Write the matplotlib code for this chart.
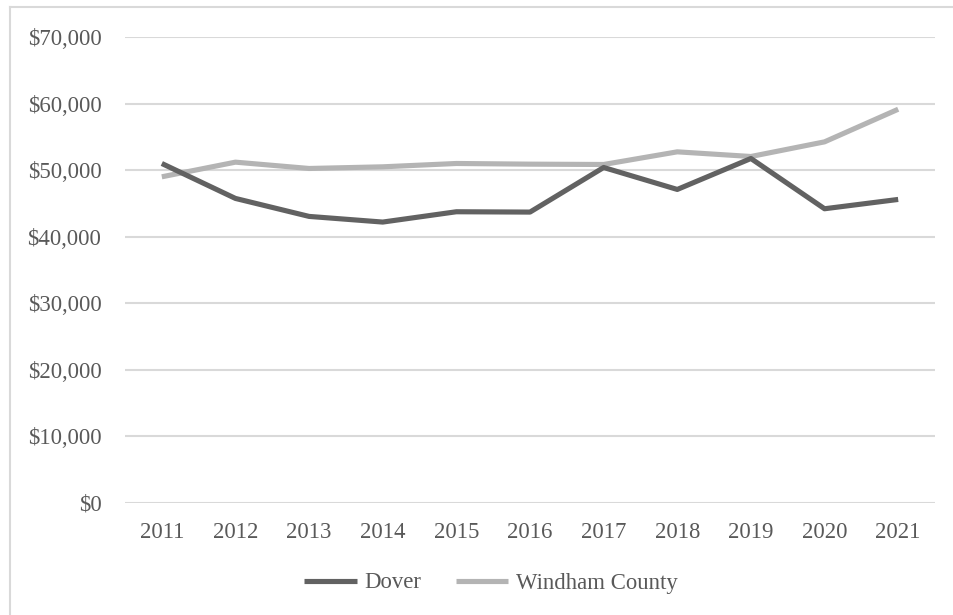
import matplotlib
matplotlib.use("Agg")
import matplotlib.pyplot as plt
from matplotlib.lines import Line2D
from matplotlib.ticker import FuncFormatter

years = ["2011", "2012", "2013", "2014", "2015", "2016",
         "2017", "2018", "2019", "2020", "2021"]
dover = [51000, 45750, 43050, 42200, 43750, 43700,
         50400, 47100, 51750, 44200, 45600]
windham = [49000, 51200, 50250, 50500, 51000, 50900,
           50850, 52750, 52050, 54250, 59150]

plt.rcParams["font.family"] = ["Liberation Serif", "DejaVu Serif"]
text_col = "#595959"
grid_col = "#d9d9d9"

fig = plt.figure(figsize=(9.54, 6.15), dpi=100)
ax = fig.add_axes([125 / 954, 1 - 503 / 615, 810 / 954, 466 / 615])

x = range(len(years))
ax.plot(x, dover, color="#626262", lw=3.7, label="Dover", solid_capstyle="butt", zorder=3)
ax.plot(x, windham, color="#b4b4b4", lw=3.7, label="Windham County", solid_capstyle="butt", zorder=2)

ax.set_xlim(-0.5, len(years) - 0.5)
ax.set_ylim(0, 70000)
ax.set_yticks(range(0, 70001, 10000))
ax.yaxis.set_major_formatter(FuncFormatter(lambda v, p: f"${v:,.0f}"))
ax.set_xticks(list(x))
ax.set_xticklabels(years)

ax.grid(axis="y", color=grid_col, lw=1.5)
ax.set_axisbelow(True)
for s in ax.spines.values():
    s.set_visible(False)
ax.tick_params(axis="both", length=0, labelsize=16.4, colors=text_col)
ax.tick_params(axis="y", pad=17)
ax.tick_params(axis="x", pad=14)

leg = fig.legend(loc="center", bbox_to_anchor=(0.5 + 14 / 954, 1 - 583 / 615), ncol=2,
                 frameon=False, fontsize=16.4, handlelength=2.3,
                 handletextpad=0.35, columnspacing=1.5)
for t in leg.get_texts():
    t.set_color(text_col)

# chart frame (top and left edges visible in crop)
fig.add_artist(Line2D([10 / 954, 10 / 954], [0, 1 - 7 / 615], transform=fig.transFigure,
                      color=grid_col, lw=1.5))
fig.add_artist(Line2D([10 / 954, 1], [1 - 7 / 615, 1 - 7 / 615], transform=fig.transFigure,
                      color=grid_col, lw=1.5))

fig.savefig("out.png", dpi=100)
